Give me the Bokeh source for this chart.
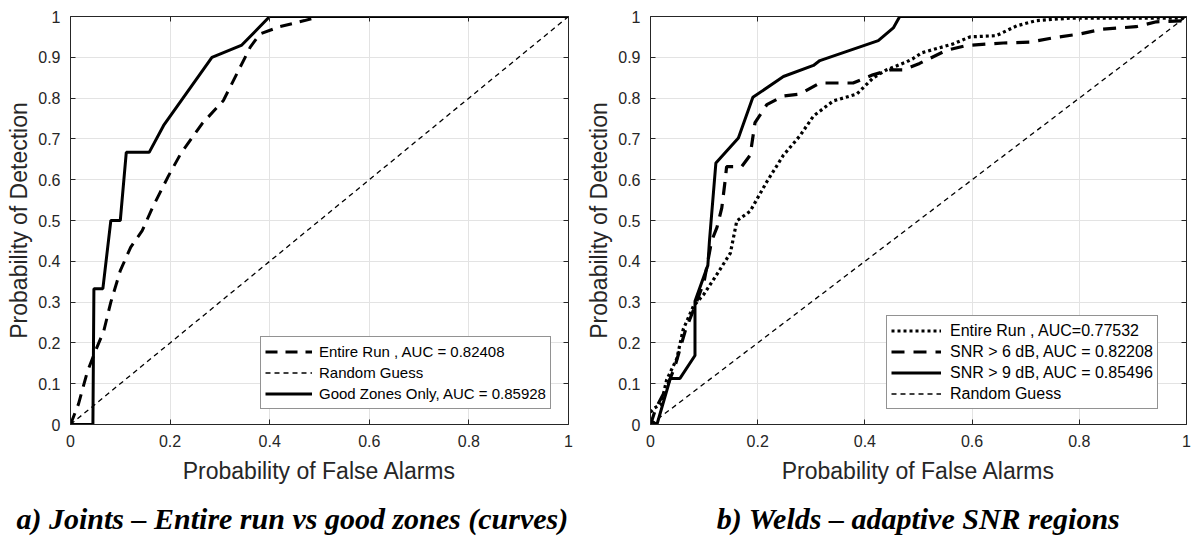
from bokeh.plotting import figure
from bokeh.layouts import row
from bokeh.models import (LinearAxis, FixedTicker, Title, Legend, LegendItem,
                          CustomJSTickFormatter, Range1d)
from bokeh.embed import file_html
from bokeh.resources import INLINE

# ---------------- data ----------------
x_ticks = [0, 0.2, 0.4, 0.6, 0.8, 1.0]
y_ticks = [0, 0.1, 0.2, 0.3, 0.4, 0.5, 0.6, 0.7, 0.8, 0.9, 1.0]
guess_x = [0, 1]
guess_y = [0, 1]

# (a) Joints
a_entire_pfa = [0, 0.016, 0.034, 0.05, 0.067, 0.081, 0.1, 0.121, 0.144, 0.164, 0.197,
                0.221, 0.264, 0.307, 0.361, 0.38, 0.42, 0.47, 0.5, 1.0]
a_entire_pd = [0, 0.05, 0.13, 0.18, 0.23, 0.3, 0.377, 0.435, 0.475, 0.53, 0.61,
               0.663, 0.737, 0.794, 0.925, 0.957, 0.975, 0.99, 1.0, 1.0]
a_good_pfa = [0, 0.045, 0.047, 0.065, 0.081, 0.1, 0.112, 0.158, 0.187, 0.284, 0.344, 0.4, 1.0]
a_good_pd = [0, 0, 0.333, 0.333, 0.5, 0.5, 0.667, 0.667, 0.733, 0.9, 0.93, 1.0, 1.0]

# (b) Welds
b_entire_pfa = [0, 0.007, 0.02, 0.03, 0.049, 0.061, 0.08, 0.1, 0.12, 0.149, 0.161, 0.186,
                0.217, 0.248, 0.279, 0.304, 0.341, 0.385, 0.415, 0.44, 0.478, 0.49, 0.506,
                0.565, 0.596, 0.645, 0.683, 0.72, 0.782, 1.0]
b_entire_pd = [0.03, 0.04, 0.05, 0.109, 0.161, 0.233, 0.29, 0.32, 0.36, 0.42, 0.499, 0.523,
               0.595, 0.66, 0.708, 0.756, 0.793, 0.81, 0.849, 0.869, 0.889, 0.897, 0.911,
               0.933, 0.95, 0.953, 0.977, 0.99, 0.996, 0.996]
b_snr6_pfa = [0, 0.01, 0.03, 0.045, 0.065, 0.083, 0.1, 0.114, 0.124, 0.133, 0.139, 0.142,
              0.17, 0.186, 0.195, 0.217, 0.248, 0.279, 0.316, 0.378, 0.415, 0.447, 0.471,
              0.502, 0.552, 0.59, 0.658, 0.707, 0.757, 0.8, 0.844, 0.906, 0.944, 1.0]
b_snr6_pd = [0, 0.04, 0.09, 0.14, 0.23, 0.29, 0.35, 0.45, 0.483, 0.531, 0.595, 0.632,
             0.632, 0.66, 0.74, 0.784, 0.805, 0.81, 0.837, 0.837, 0.857, 0.869, 0.869,
             0.885, 0.917, 0.929, 0.935, 0.937, 0.949, 0.957, 0.969, 0.975, 0.987, 0.99]
b_snr9_pfa = [0, 0.012, 0.037, 0.055, 0.083, 0.083, 0.107, 0.11, 0.122, 0.164, 0.191, 0.248,
              0.304, 0.316, 0.425, 0.453, 0.465, 1.0]
b_snr9_pd = [0.01, 0, 0.113, 0.113, 0.169, 0.302, 0.39, 0.45, 0.641, 0.702, 0.802, 0.853,
             0.88, 0.892, 0.941, 0.972, 1.0, 1.0]

caption_a = "a) Joints \u2013 Entire run vs good zones (curves)"
caption_b = "b) Welds \u2013 adaptive SNR regions"
x_label = "Probability of False Alarms"
y_label = "Probability of Detection"

AX = "#262626"
SANS = "Liberation Sans"
SERIF = "Liberation Serif"


def style_axis(ax, labels=True):
    ax.axis_line_color = AX
    ax.axis_line_width = 1
    ax.major_tick_line_color = AX
    ax.major_tick_in = 5
    ax.major_tick_out = 0
    ax.minor_tick_line_color = None
    ax.major_label_text_font = SANS
    ax.major_label_text_color = AX
    if labels:
        ax.major_label_text_font_size = "16px"
        ax.major_label_standoff = 10
        ax.major_label_overrides = {0: "0", 1: "1"}
    else:
        ax.major_label_text_font_size = "1px"
        ax.major_label_standoff = 0
        ax.formatter = CustomJSTickFormatter(code="return ''")


def make_fig(width, left, right, top, bottom, caption, cap_align, cap_offset):
    p = figure(width=width, height=550, output_backend="svg", toolbar_location=None,
               x_range=Range1d(0, 1), y_range=Range1d(0, 1),
               min_border_left=left, min_border_right=right,
               min_border_top=top, min_border_bottom=bottom)
    p.outline_line_color = None
    p.background_fill_color = "white"
    p.border_fill_color = "white"
    p.xaxis.ticker = FixedTicker(ticks=x_ticks)
    p.yaxis.ticker = FixedTicker(ticks=y_ticks)
    for ax in p.xaxis + p.yaxis:
        style_axis(ax)
        ax.axis_label_text_font = SANS
        ax.axis_label_text_font_size = "23px"
        ax.axis_label_text_font_style = "normal"
        ax.axis_label_text_color = AX
        ax.axis_label_text_line_height = 1.0
    p.xaxis.axis_label = x_label
    p.yaxis.axis_label = y_label
    p.xaxis.axis_label_standoff = 8
    p.yaxis.axis_label_standoff = 3
    top_ax = LinearAxis(ticker=FixedTicker(ticks=x_ticks))
    right_ax = LinearAxis(ticker=FixedTicker(ticks=y_ticks))
    style_axis(top_ax, labels=False)
    style_axis(right_ax, labels=False)
    p.add_layout(top_ax, "above")
    p.add_layout(right_ax, "right")
    p.xgrid.ticker = FixedTicker(ticks=x_ticks)
    p.ygrid.ticker = FixedTicker(ticks=y_ticks)
    p.grid.grid_line_color = "#e3e3e3"
    p.grid.grid_line_width = 1
    p.add_layout(Title(text=caption, align=cap_align, offset=cap_offset,
                       text_font=SERIF, text_font_style="bold italic",
                       text_font_size="30px", text_color="black", standoff=27), "below")
    return p


def make_legend(p, items, loc, size, gw, standoff):
    leg = Legend(items=items, location=loc, label_text_font=SANS,
                 label_text_font_size=size, label_text_color="black",
                 glyph_width=gw, glyph_height=21, label_height=21, label_standoff=standoff,
                 spacing=0, padding=4, margin=0, border_line_color=AX,
                 border_line_width=1, background_fill_color="white",
                 background_fill_alpha=1.0)
    p.add_layout(leg, "center")


# ---------------- panel (a) ----------------
W1 = 580
pa = make_fig(W1, 70, W1 - 568, 16, 126, caption_a, "left", -54)
r_a1 = pa.line(a_entire_pfa, a_entire_pd, line_color="black", line_width=3,
               line_dash="12 8")
r_a2 = pa.line(guess_x, guess_y, line_color="black", line_width=1.3, line_dash="5 4")
r_a3 = pa.line(a_good_pfa, a_good_pd, line_color="black", line_width=3)
make_legend(pa, [LegendItem(label="Entire Run , AUC = 0.82408", renderers=[r_a1]),
                 LegendItem(label="Random Guess", renderers=[r_a2]),
                 LegendItem(label="Good Zones Only, AUC = 0.85928", renderers=[r_a3])],
            (190, 15), "15px", 47, 7)

# ---------------- panel (b) ----------------
W2 = 1196 - W1
pb = make_fig(W2, 650 - W1, 10, 12, 123, caption_b, "center", 9)
r_b1 = pb.line(b_entire_pfa, b_entire_pd, line_color="black", line_width=3.2,
               line_dash="3 3")
r_b2 = pb.line(b_snr6_pfa, b_snr6_pd, line_color="black", line_width=3.2,
               line_dash="13 9")
r_b3 = pb.line(b_snr9_pfa, b_snr9_pd, line_color="black", line_width=3)
r_b4 = pb.line(guess_x, guess_y, line_color="black", line_width=1.3, line_dash="5 4")
make_legend(pb, [LegendItem(label="Entire Run , AUC=0.77532", renderers=[r_b1]),
                 LegendItem(label="SNR > 6 dB, AUC = 0.82208", renderers=[r_b2]),
                 LegendItem(label="SNR > 9 dB, AUC = 0.85496", renderers=[r_b3]),
                 LegendItem(label="Random Guess", renderers=[r_b4])],
            (236, 15), "16px", 50, 9)

layout = row(pa, pb)
open("out.html", "w").write(file_html(layout, INLINE))
